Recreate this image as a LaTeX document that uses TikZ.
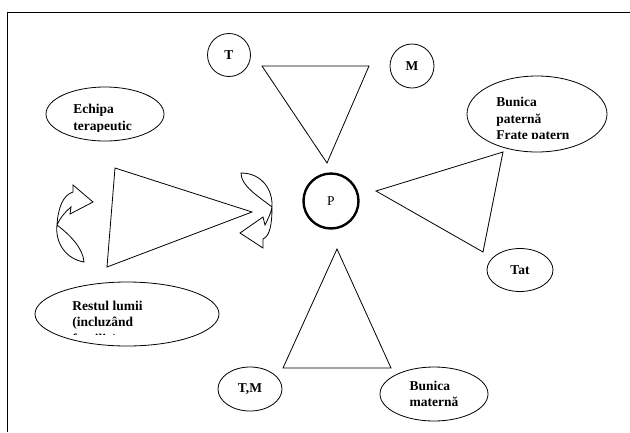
\documentclass[tikz,border=0pt]{standalone}
\usepackage{fontspec}
\setmainfont{Liberation Serif}
\usetikzlibrary{shapes.geometric}
\newcommand{\lbl}{\fontsize{13.5}{16.5}\selectfont\bfseries}

\begin{document}
\begin{tikzpicture}[x=1pt,y=-1pt,line width=0.8pt,
  ring/.style={draw,circle,minimum size=44pt,inner sep=0pt,font=\lbl},
  oval/.style={draw,ellipse,inner sep=0pt,font=\lbl,align=left},
  txt/.style={anchor=base west,align=left,font=\lbl,inner sep=0pt}]
  \useasboundingbox (0,0) rectangle (630,432);
  \draw[line width=1pt] (7,432) -- (7,12) -- (630,12);

  \node[ring,minimum size=43pt] (t) at (229,55) {T};
  \node[ring] (m) at (412,66) {M};
  \node[draw,circle,minimum size=55pt,inner sep=0pt,line width=2.4pt,
        font=\fontsize{13.5}{16.5}\selectfont] (p) at (331,201) {P};

  \node[oval,minimum width=118pt,minimum height=54pt] (echipa) at (105,114) {};
  \node[oval,minimum width=140pt,minimum height=76pt] (bpat) at (537,114) {};
  \node[oval,minimum width=184pt,minimum height=64pt] (restul) at (127,314) {};
  \node[oval,minimum width=66pt,minimum height=43pt] (tat) at (520,270) {Tat};
  \node[oval,minimum width=108pt,minimum height=54pt] (bmat) at (434,394) {Bunica\\maternă};
  \node[oval,minimum width=64pt,minimum height=44pt] (tm) at (250,389) {T,M};

  \begin{scope}
    \clip (60,95) rectangle (170,131.5);
    \node[txt] (echipatxt) at (73,130) {Echipa\\terapeutic};
  \end{scope}
  \begin{scope}
    \clip (480,90) rectangle (610,138.5);
    \node[txt] (bpattxt) at (496,139.5) {Bunica\\paternă\\Frate patern};
  \end{scope}
  \begin{scope}
    \clip (60,295) rectangle (200,334.5);
    \node[txt] (restultxt) at (72,343) {Restul lumii\\(incluzând\\familia)};
  \end{scope}

  \draw (262,66) -- (369,66) -- (327,163) -- cycle;
  \draw (115,168) -- (252,212) -- (107,267) -- cycle;
  \draw (376,191) -- (503,152) -- (483,252) -- cycle;
  \draw (337,249) -- (391,368) -- (283,368) -- cycle;

  \draw (84,262) .. controls (66,259) and (55,243) .. (57,225)
    .. controls (58,208) and (63,195) .. (73,192) -- (73,185) -- (93,202)
    -- (70,214) -- (71,207) .. controls (65,212) and (60,218) .. (57,225)
    .. controls (70,235) and (83,248) .. (84,262) -- cycle;
  \draw (241,173) .. controls (262,173) and (273,190) .. (272,207)
    .. controls (272,224) and (270,236) .. (263,239) -- (263,248) -- (240,233)
    -- (263,217) -- (265,225) .. controls (268,219) and (271,213) .. (272,207)
    .. controls (258,196) and (241,186) .. (241,173) -- cycle;
\end{tikzpicture}
\end{document}
